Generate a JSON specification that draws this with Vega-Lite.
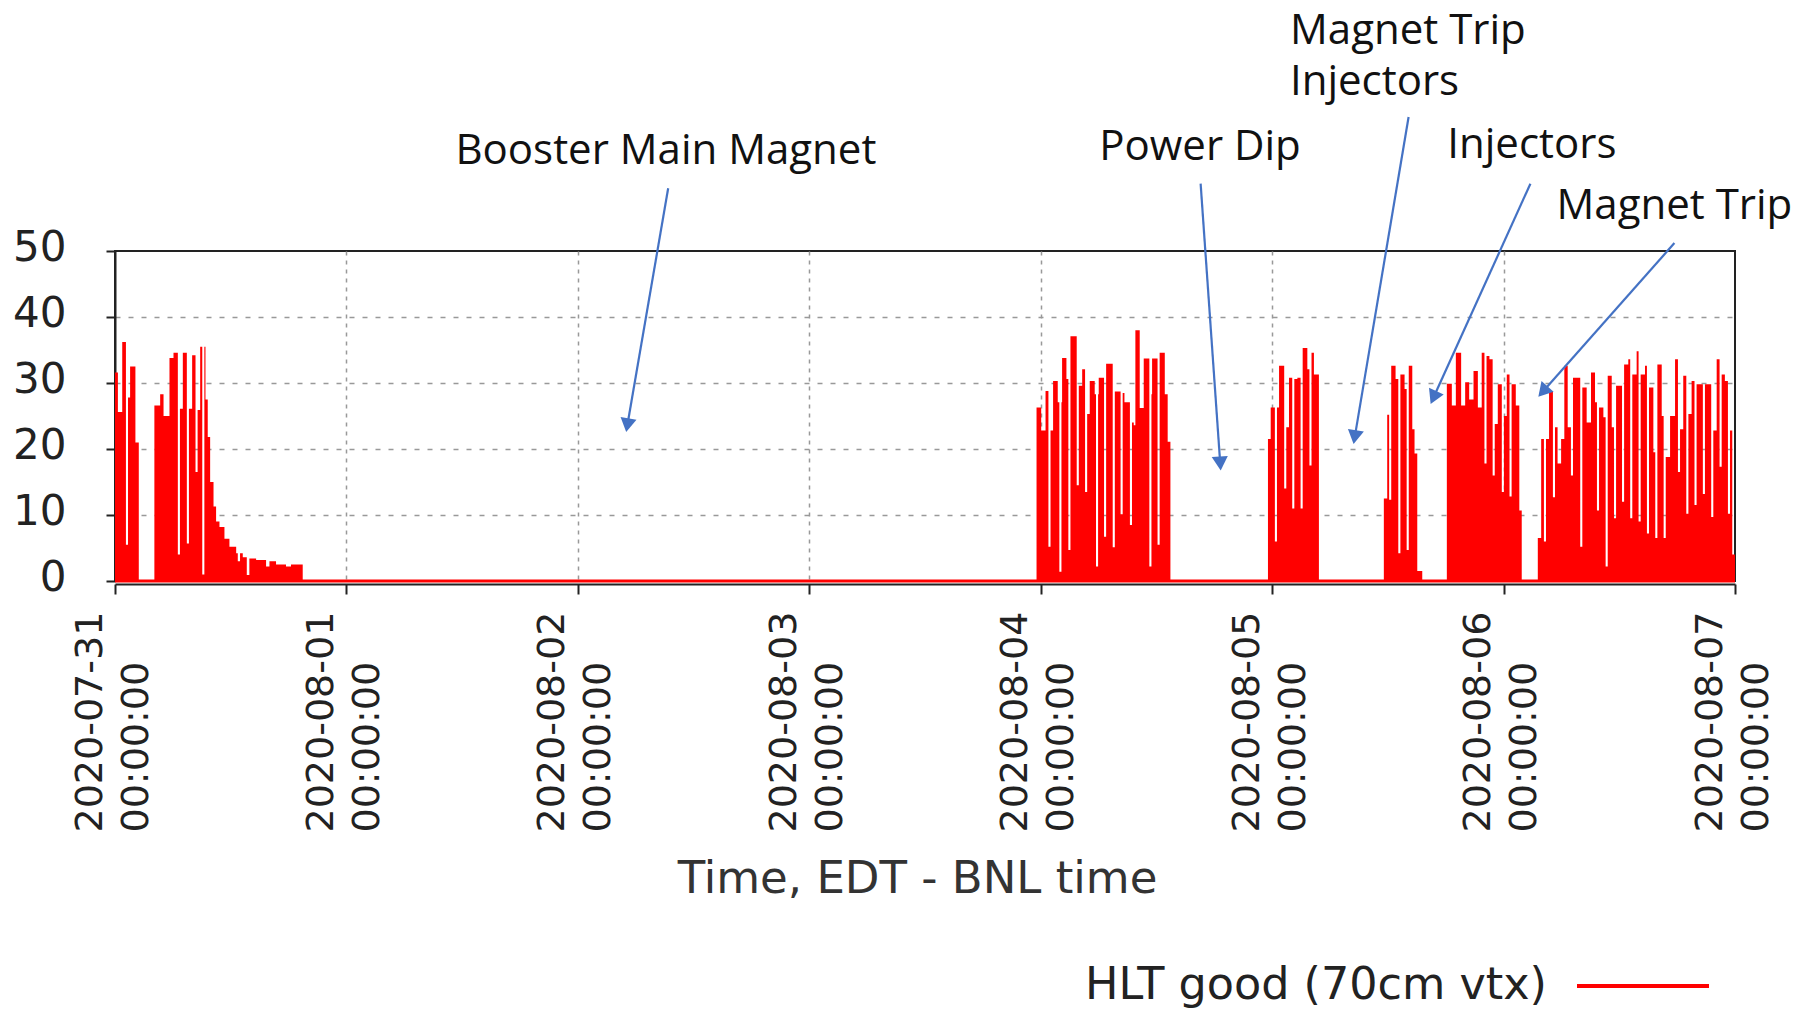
{
  "$schema": "https://vega.github.io/schema/vega-lite/v6.json",
  "width": 1620,
  "height": 330,
  "autosize": {"type": "none"},
  "padding": {"left": 115, "top": 251, "right": 77, "bottom": 428},
  "background": "white",
  "config": {"view": {"stroke": "#222222", "strokeWidth": 2}, "font": "DejaVu Sans"},
  "datasets": {
    "series": [
      {"time": "2020-07-31T00:00:00", "rate": 31.6},
      {"time": "2020-07-31T00:18:00", "rate": 25.6},
      {"time": "2020-07-31T00:45:00", "rate": 36.2},
      {"time": "2020-07-31T01:08:00", "rate": 5.5},
      {"time": "2020-07-31T01:21:00", "rate": 27.8},
      {"time": "2020-07-31T01:34:00", "rate": 32.5},
      {"time": "2020-07-31T02:07:00", "rate": 21.0},
      {"time": "2020-07-31T02:28:00", "rate": 0},
      {"time": "2020-07-31T04:05:00", "rate": 26.6},
      {"time": "2020-07-31T04:41:00", "rate": 28.3},
      {"time": "2020-07-31T05:02:00", "rate": 25.0},
      {"time": "2020-07-31T05:39:00", "rate": 33.8},
      {"time": "2020-07-31T06:04:00", "rate": 34.6},
      {"time": "2020-07-31T06:31:00", "rate": 4.0},
      {"time": "2020-07-31T06:44:00", "rate": 26.1},
      {"time": "2020-07-31T07:02:00", "rate": 34.6},
      {"time": "2020-07-31T07:27:00", "rate": 5.7},
      {"time": "2020-07-31T07:40:00", "rate": 26.1},
      {"time": "2020-07-31T08:00:00", "rate": 34.2},
      {"time": "2020-07-31T08:21:00", "rate": 16.5},
      {"time": "2020-07-31T08:34:00", "rate": 25.9},
      {"time": "2020-07-31T08:50:00", "rate": 35.5},
      {"time": "2020-07-31T09:03:00", "rate": 1.0},
      {"time": "2020-07-31T09:16:00", "rate": 35.5},
      {"time": "2020-07-31T09:23:00", "rate": 27.5},
      {"time": "2020-07-31T09:37:00", "rate": 21.8},
      {"time": "2020-07-31T09:52:00", "rate": 15.0},
      {"time": "2020-07-31T10:13:00", "rate": 11.3},
      {"time": "2020-07-31T10:29:00", "rate": 9.0},
      {"time": "2020-07-31T10:50:00", "rate": 8.2},
      {"time": "2020-07-31T11:21:00", "rate": 6.4},
      {"time": "2020-07-31T11:52:00", "rate": 5.2},
      {"time": "2020-07-31T12:34:00", "rate": 4.2},
      {"time": "2020-07-31T12:44:00", "rate": 3.0},
      {"time": "2020-07-31T12:58:00", "rate": 4.2},
      {"time": "2020-07-31T13:15:00", "rate": 3.6},
      {"time": "2020-07-31T13:40:00", "rate": 0.9},
      {"time": "2020-07-31T13:56:00", "rate": 3.4},
      {"time": "2020-07-31T14:38:00", "rate": 3.2},
      {"time": "2020-07-31T15:40:00", "rate": 2.2},
      {"time": "2020-07-31T16:01:00", "rate": 3.0},
      {"time": "2020-07-31T16:42:00", "rate": 2.5},
      {"time": "2020-07-31T17:44:00", "rate": 2.2},
      {"time": "2020-07-31T18:15:00", "rate": 2.5},
      {"time": "2020-07-31T19:28:00", "rate": 0},
      {"time": "2020-08-03T23:34:00", "rate": 26.3},
      {"time": "2020-08-04T00:03:00", "rate": 22.8},
      {"time": "2020-08-04T00:30:00", "rate": 28.8},
      {"time": "2020-08-04T00:48:00", "rate": 5.2},
      {"time": "2020-08-04T01:01:00", "rate": 22.8},
      {"time": "2020-08-04T01:17:00", "rate": 30.3},
      {"time": "2020-08-04T01:46:00", "rate": 27.1},
      {"time": "2020-08-04T01:56:00", "rate": 1.4},
      {"time": "2020-08-04T02:09:00", "rate": 27.1},
      {"time": "2020-08-04T02:13:00", "rate": 33.8},
      {"time": "2020-08-04T02:40:00", "rate": 30.6},
      {"time": "2020-08-04T02:52:00", "rate": 4.7},
      {"time": "2020-08-04T03:05:00", "rate": 37.1},
      {"time": "2020-08-04T03:44:00", "rate": 14.5},
      {"time": "2020-08-04T03:57:00", "rate": 29.6},
      {"time": "2020-08-04T04:18:00", "rate": 32.1},
      {"time": "2020-08-04T04:36:00", "rate": 13.5},
      {"time": "2020-08-04T04:49:00", "rate": 25.3},
      {"time": "2020-08-04T05:05:00", "rate": 30.3},
      {"time": "2020-08-04T05:36:00", "rate": 28.3},
      {"time": "2020-08-04T05:44:00", "rate": 2.2},
      {"time": "2020-08-04T05:57:00", "rate": 28.3},
      {"time": "2020-08-04T06:01:00", "rate": 30.8},
      {"time": "2020-08-04T06:34:00", "rate": 6.7},
      {"time": "2020-08-04T06:47:00", "rate": 32.9},
      {"time": "2020-08-04T07:28:00", "rate": 5.1},
      {"time": "2020-08-04T07:41:00", "rate": 28.7},
      {"time": "2020-08-04T08:17:00", "rate": 10.1},
      {"time": "2020-08-04T08:30:00", "rate": 28.5},
      {"time": "2020-08-04T08:41:00", "rate": 27.1},
      {"time": "2020-08-04T09:15:00", "rate": 8.5},
      {"time": "2020-08-04T09:28:00", "rate": 24.0},
      {"time": "2020-08-04T09:39:00", "rate": 23.6},
      {"time": "2020-08-04T09:49:00", "rate": 38.0},
      {"time": "2020-08-04T10:16:00", "rate": 26.2},
      {"time": "2020-08-04T10:41:00", "rate": 33.7},
      {"time": "2020-08-04T11:16:00", "rate": 2.2},
      {"time": "2020-08-04T11:29:00", "rate": 28.3},
      {"time": "2020-08-04T11:33:00", "rate": 33.7},
      {"time": "2020-08-04T12:07:00", "rate": 5.5},
      {"time": "2020-08-04T12:20:00", "rate": 34.6},
      {"time": "2020-08-04T12:52:00", "rate": 28.3},
      {"time": "2020-08-04T13:10:00", "rate": 21.1},
      {"time": "2020-08-04T13:27:00", "rate": 0},
      {"time": "2020-08-04T23:34:00", "rate": 21.5},
      {"time": "2020-08-04T23:51:00", "rate": 26.3},
      {"time": "2020-08-05T00:17:00", "rate": 6.0},
      {"time": "2020-08-05T00:30:00", "rate": 26.3},
      {"time": "2020-08-05T00:43:00", "rate": 32.6},
      {"time": "2020-08-05T01:15:00", "rate": 14.0},
      {"time": "2020-08-05T01:28:00", "rate": 23.3},
      {"time": "2020-08-05T01:45:00", "rate": 30.8},
      {"time": "2020-08-05T02:05:00", "rate": 11.0},
      {"time": "2020-08-05T02:18:00", "rate": 30.6},
      {"time": "2020-08-05T02:37:00", "rate": 30.8},
      {"time": "2020-08-05T02:57:00", "rate": 11.0},
      {"time": "2020-08-05T03:10:00", "rate": 35.3},
      {"time": "2020-08-05T03:39:00", "rate": 32.1},
      {"time": "2020-08-05T03:52:00", "rate": 17.5},
      {"time": "2020-08-05T04:05:00", "rate": 34.6},
      {"time": "2020-08-05T04:20:00", "rate": 31.3},
      {"time": "2020-08-05T04:51:00", "rate": 0},
      {"time": "2020-08-05T11:35:00", "rate": 12.5},
      {"time": "2020-08-05T11:56:00", "rate": 25.2},
      {"time": "2020-08-05T12:08:00", "rate": 12.3},
      {"time": "2020-08-05T12:21:00", "rate": 32.6},
      {"time": "2020-08-05T12:48:00", "rate": 30.6},
      {"time": "2020-08-05T13:05:00", "rate": 4.2},
      {"time": "2020-08-05T13:18:00", "rate": 31.3},
      {"time": "2020-08-05T13:44:00", "rate": 29.1},
      {"time": "2020-08-05T13:57:00", "rate": 4.7},
      {"time": "2020-08-05T14:10:00", "rate": 32.6},
      {"time": "2020-08-05T14:32:00", "rate": 23.0},
      {"time": "2020-08-05T14:46:00", "rate": 19.3},
      {"time": "2020-08-05T15:03:00", "rate": 1.5},
      {"time": "2020-08-05T15:34:00", "rate": 0},
      {"time": "2020-08-05T18:07:00", "rate": 29.9},
      {"time": "2020-08-05T18:38:00", "rate": 26.6},
      {"time": "2020-08-05T19:03:00", "rate": 34.6},
      {"time": "2020-08-05T19:36:00", "rate": 26.6},
      {"time": "2020-08-05T20:01:00", "rate": 30.1},
      {"time": "2020-08-05T20:26:00", "rate": 27.5},
      {"time": "2020-08-05T20:53:00", "rate": 31.8},
      {"time": "2020-08-05T21:20:00", "rate": 26.3},
      {"time": "2020-08-05T21:44:00", "rate": 34.6},
      {"time": "2020-08-05T22:01:00", "rate": 17.8},
      {"time": "2020-08-05T22:14:00", "rate": 34.1},
      {"time": "2020-08-05T22:32:00", "rate": 33.6},
      {"time": "2020-08-05T22:52:00", "rate": 16.0},
      {"time": "2020-08-05T23:05:00", "rate": 23.8},
      {"time": "2020-08-05T23:24:00", "rate": 29.8},
      {"time": "2020-08-05T23:49:00", "rate": 13.5},
      {"time": "2020-08-06T00:02:00", "rate": 25.0},
      {"time": "2020-08-06T00:20:00", "rate": 31.3},
      {"time": "2020-08-06T00:37:00", "rate": 12.8},
      {"time": "2020-08-06T00:50:00", "rate": 29.8},
      {"time": "2020-08-06T01:16:00", "rate": 26.6},
      {"time": "2020-08-06T01:38:00", "rate": 10.7},
      {"time": "2020-08-06T01:53:00", "rate": 0},
      {"time": "2020-08-06T03:33:00", "rate": 6.5},
      {"time": "2020-08-06T03:54:00", "rate": 21.5},
      {"time": "2020-08-06T04:11:00", "rate": 6.0},
      {"time": "2020-08-06T04:24:00", "rate": 21.5},
      {"time": "2020-08-06T04:43:00", "rate": 28.8},
      {"time": "2020-08-06T05:07:00", "rate": 12.7},
      {"time": "2020-08-06T05:20:00", "rate": 23.3},
      {"time": "2020-08-06T05:36:00", "rate": 17.8},
      {"time": "2020-08-06T05:58:00", "rate": 21.5},
      {"time": "2020-08-06T06:18:00", "rate": 32.6},
      {"time": "2020-08-06T06:39:00", "rate": 23.3},
      {"time": "2020-08-06T06:59:00", "rate": 16.0},
      {"time": "2020-08-06T07:12:00", "rate": 30.8},
      {"time": "2020-08-06T07:57:00", "rate": 5.2},
      {"time": "2020-08-06T08:10:00", "rate": 29.3},
      {"time": "2020-08-06T08:37:00", "rate": 24.0},
      {"time": "2020-08-06T09:04:00", "rate": 31.6},
      {"time": "2020-08-06T09:29:00", "rate": 27.1},
      {"time": "2020-08-06T09:41:00", "rate": 10.7},
      {"time": "2020-08-06T09:54:00", "rate": 26.3},
      {"time": "2020-08-06T10:21:00", "rate": 24.8},
      {"time": "2020-08-06T10:35:00", "rate": 2.2},
      {"time": "2020-08-06T10:48:00", "rate": 31.1},
      {"time": "2020-08-06T11:13:00", "rate": 23.3},
      {"time": "2020-08-06T11:27:00", "rate": 9.5},
      {"time": "2020-08-06T11:40:00", "rate": 29.6},
      {"time": "2020-08-06T12:17:00", "rate": 12.0},
      {"time": "2020-08-06T12:30:00", "rate": 32.8},
      {"time": "2020-08-06T12:56:00", "rate": 33.6},
      {"time": "2020-08-06T13:08:00", "rate": 9.5},
      {"time": "2020-08-06T13:21:00", "rate": 31.3},
      {"time": "2020-08-06T13:48:00", "rate": 34.8},
      {"time": "2020-08-06T14:00:00", "rate": 9.0},
      {"time": "2020-08-06T14:13:00", "rate": 31.3},
      {"time": "2020-08-06T14:40:00", "rate": 32.6},
      {"time": "2020-08-06T14:52:00", "rate": 7.2},
      {"time": "2020-08-06T15:05:00", "rate": 29.3},
      {"time": "2020-08-06T15:32:00", "rate": 19.5},
      {"time": "2020-08-06T15:44:00", "rate": 6.5},
      {"time": "2020-08-06T15:57:00", "rate": 32.8},
      {"time": "2020-08-06T16:24:00", "rate": 25.0},
      {"time": "2020-08-06T16:36:00", "rate": 6.5},
      {"time": "2020-08-06T16:49:00", "rate": 18.8},
      {"time": "2020-08-06T17:16:00", "rate": 25.0},
      {"time": "2020-08-06T17:47:00", "rate": 33.6},
      {"time": "2020-08-06T18:05:00", "rate": 16.5},
      {"time": "2020-08-06T18:18:00", "rate": 23.0},
      {"time": "2020-08-06T18:38:00", "rate": 31.1},
      {"time": "2020-08-06T18:57:00", "rate": 10.2},
      {"time": "2020-08-06T19:10:00", "rate": 25.3},
      {"time": "2020-08-06T19:30:00", "rate": 30.3},
      {"time": "2020-08-06T19:48:00", "rate": 11.5},
      {"time": "2020-08-06T20:01:00", "rate": 29.8},
      {"time": "2020-08-06T20:40:00", "rate": 13.2},
      {"time": "2020-08-06T20:53:00", "rate": 29.8},
      {"time": "2020-08-06T21:32:00", "rate": 9.7},
      {"time": "2020-08-06T21:45:00", "rate": 22.8},
      {"time": "2020-08-06T22:06:00", "rate": 33.6},
      {"time": "2020-08-06T22:24:00", "rate": 17.3},
      {"time": "2020-08-06T22:37:00", "rate": 31.3},
      {"time": "2020-08-06T22:57:00", "rate": 30.3},
      {"time": "2020-08-06T23:16:00", "rate": 10.2},
      {"time": "2020-08-06T23:29:00", "rate": 22.8},
      {"time": "2020-08-06T23:43:00", "rate": 4.0},
      {"time": "2020-08-07T00:00:00", "rate": 4.0}
    ],
    "arrows": [
      {"start": "2020-08-02T09:22:00", "sv": 59.5, "end": "2020-08-02T05:08:00", "ev": 23.6, "angle": 189.7},
      {"start": "2020-08-04T16:35:00", "sv": 60.2, "end": "2020-08-04T18:37:00", "ev": 17.8, "angle": 176.0},
      {"start": "2020-08-05T14:09:00", "sv": 70.3, "end": "2020-08-05T08:34:00", "ev": 21.8, "angle": 189.5},
      {"start": "2020-08-06T02:47:00", "sv": 60.2, "end": "2020-08-05T16:44:00", "ev": 27.8, "angle": 204.2},
      {"start": "2020-08-06T17:43:00", "sv": 51.2, "end": "2020-08-06T04:05:00", "ev": 28.7, "angle": 221.3}
    ],
    "notes": [
      {"label": "Booster Main Magnet", "time": "2020-08-02T09:08:00", "v": 65.2},
      {"label": "Power Dip", "time": "2020-08-04T16:31:00", "v": 65.7},
      {"label": "Magnet Trip", "time": "2020-08-05T14:05:00", "v": 83.4},
      {"label": "Injectors", "time": "2020-08-05T10:37:00", "v": 75.6},
      {"label": "Injectors", "time": "2020-08-06T02:56:00", "v": 66.0},
      {"label": "Magnet Trip", "time": "2020-08-06T17:43:00", "v": 56.8}
    ],
    "zero": [{"level": 0}]
  },
  "layer": [
    {
      "data": {"name": "series", "format": {"parse": {"time": "date"}}},
      "mark": {"type": "area", "interpolate": "step-after", "color": "#ff0000", "fill": "#ff0000", "fillOpacity": 1, "strokeWidth": 0},
      "encoding": {
        "x": {
          "field": "time", "type": "temporal",
          "scale": {"domain": [{"year": 2020, "month": 7, "date": 31}, {"year": 2020, "month": 8, "date": 7}]},
          "axis": {
            "orient": "bottom",
            "title": "Time, EDT - BNL time",
            "tickCount": {"interval": "day", "step": 1},
            "labelExpr": "[timeFormat(datum.value, '%Y-%m-%d'), timeFormat(datum.value, '%H:%M:%S')]",
            "labelAngle": 270, "labelAlign": "left", "labelBaseline": "middle",
            "labelFont": "DejaVu Sans", "labelFontSize": 38, "labelLineHeight": 46,
            "labelPadding": 238, "labelOffset": -25, "labelColor": "#222222", "labelLimit": 600,
            "labelOverlap": false, "labelFlush": false, "labelBound": false,
            "tickSize": 10, "tickColor": "#222222", "tickWidth": 2,
            "domainColor": "#222222", "domainWidth": 2, "offset": 3,
            "grid": true, "gridColor": "#999999", "gridDash": [4, 5], "gridWidth": 1.5,
            "gridOpacity": {"condition": {"test": "datum.value <= datetime(2020, 6, 31, 1) || datum.value >= datetime(2020, 7, 6, 23)", "value": 0}, "value": 1},
            "titleFont": "DejaVu Sans", "titleFontSize": 45, "titleFontWeight": "normal", "titleColor": "#333333",
            "titleX": 802, "titleY": 294, "titleAlign": "center", "titleBaseline": "middle"
          }
        },
        "y": {
          "field": "rate", "type": "quantitative",
          "scale": {"domain": [0, 50], "nice": false},
          "axis": {
            "orient": "left",
            "title": null, "values": [0, 10, 20, 30, 40, 50],
            "labelFont": "DejaVu Sans", "labelFontSize": 42, "labelPadding": 40, "labelColor": "#222222",
            "labelOffset": -4, "labelBaseline": "middle",
            "tickSize": 9, "tickWidth": 2, "tickColor": "#222222",
            "domainColor": "#222222", "domainWidth": 2,
            "grid": true, "gridColor": "#999999", "gridDash": [5, 8], "gridWidth": 1.5,
            "gridOpacity": {"condition": {"test": "datum.value >= 50 || datum.value <= 0", "value": 0}, "value": 1}
          }
        }
      }
    },
    {
      "data": {"name": "zero"},
      "mark": {"type": "rule", "color": "#ff0000", "strokeWidth": 3},
      "encoding": {
        "y": {"field": "level", "type": "quantitative"}
      }
    },
    {
      "data": {"name": "arrows", "format": {"parse": {"start": "date", "end": "date"}}},
      "mark": {"type": "rule", "color": "#4472C4", "strokeWidth": 2.2},
      "encoding": {
        "x": {"field": "start", "type": "temporal"},
        "y": {"field": "sv", "type": "quantitative"},
        "x2": {"field": "end"},
        "y2": {"field": "ev"}
      }
    },
    {
      "data": {"name": "arrows", "format": {"parse": {"start": "date", "end": "date"}}},
      "mark": {"type": "point", "shape": "triangle-up", "filled": true, "color": "#4472C4", "size": 260, "opacity": 1},
      "encoding": {
        "x": {"field": "end", "type": "temporal"},
        "y": {"field": "ev", "type": "quantitative"},
        "angle": {"field": "angle", "type": "quantitative", "scale": null}
      }
    },
    {
      "data": {"name": "notes", "format": {"parse": {"time": "date"}}},
      "mark": {"type": "text", "font": "Open Sans", "fontSize": 42, "color": "#111111", "align": "center", "baseline": "middle"},
      "encoding": {
        "x": {"field": "time", "type": "temporal"},
        "y": {"field": "v", "type": "quantitative"},
        "text": {"field": "label"}
      }
    },
    {
      "data": {"values": [{"series": "HLT good (70cm vtx)"}]},
      "mark": {"type": "rule", "opacity": 0},
      "encoding": {
        "y": {"datum": 0},
        "stroke": {
          "field": "series", "type": "nominal",
          "scale": {"range": ["#ff0000"]},
          "legend": {
            "orient": "none", "legendX": 1460, "legendY": 667, "title": null, "padding": 0,
            "symbolType": "stroke", "symbolSize": 17424, "symbolStrokeWidth": 4, "symbolOpacity": 1,
            "labelFont": "DejaVu Sans", "labelFontSize": 44.5, "labelColor": "#222222",
            "labelAlign": "right", "labelOffset": -164, "labelLimit": 1000
          }
        }
      }
    }
  ]
}
